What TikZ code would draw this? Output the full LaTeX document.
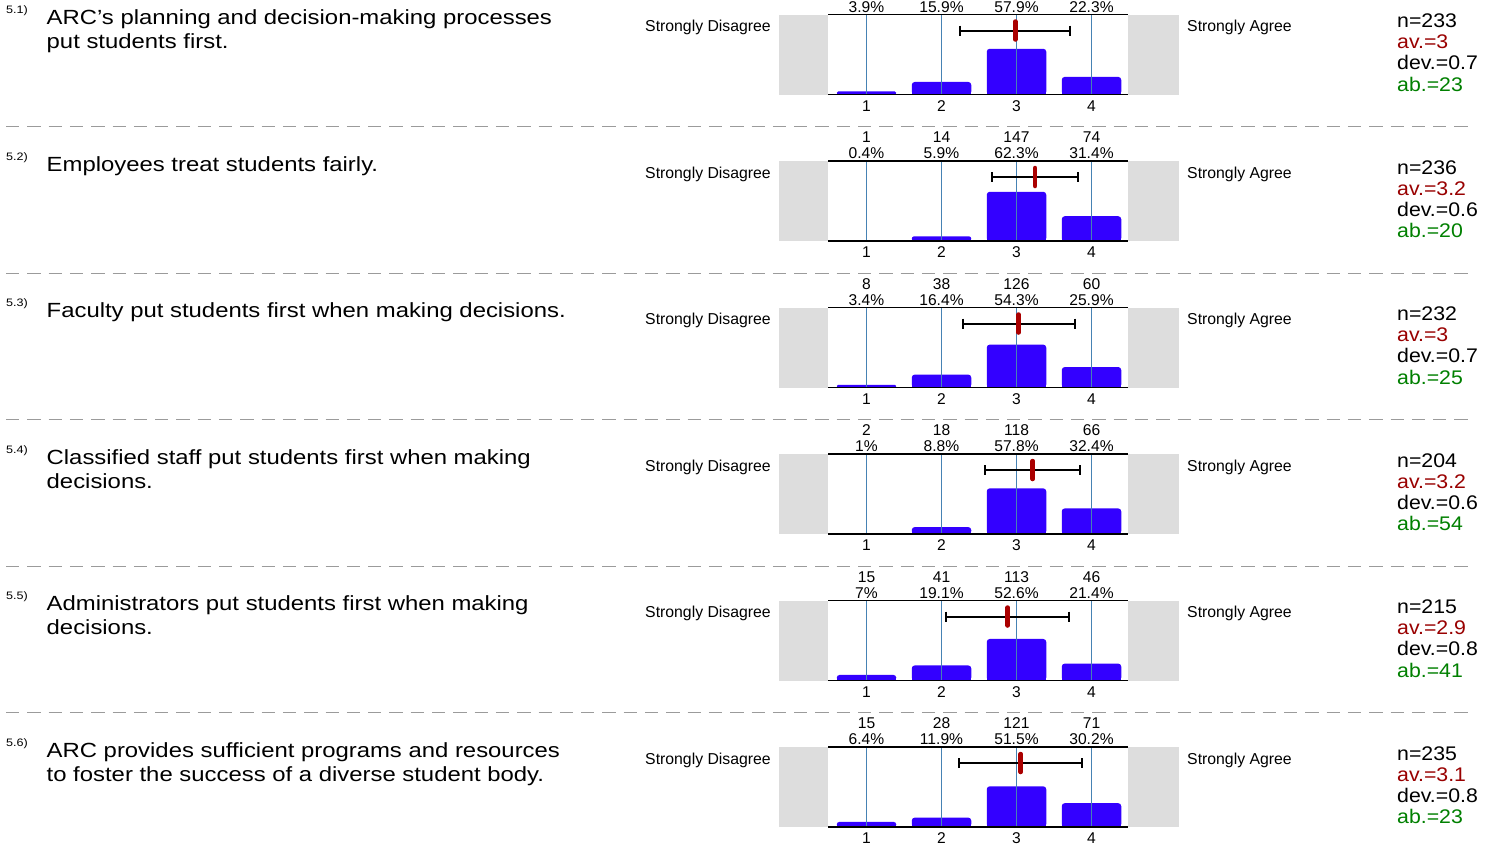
\documentclass[tikz,border=0pt]{standalone}
\usepackage{fontspec}
\setmainfont{Liberation Sans}
\newfontfamily\qfont[FakeStretch=1.165]{Liberation Sans}
\newfontfamily\stfont[FakeStretch=1.08]{Liberation Sans}
\definecolor{barblue}{RGB}{51,0,255}
\definecolor{gridblue}{RGB}{70,130,180}
\definecolor{meanred}{RGB}{170,0,0}
\definecolor{avred}{RGB}{153,0,0}
\definecolor{abgreen}{RGB}{0,128,0}
\definecolor{boxgray}{RGB}{221,221,221}
\definecolor{sepgray}{RGB}{155,155,155}
\begin{document}
\begin{tikzpicture}[x=1pt,y=-1pt,
  lbl/.style={font=\fontsize{15.6}{16}\selectfont, inner sep=0pt, anchor=base},
  sidelbl/.style={font=\fontsize{15.8}{16}\selectfont, inner sep=0pt},
  qtext/.style={font=\qfont\fontsize{20.5}{24}\selectfont, inner sep=0pt, anchor=base west},
  qnum/.style={font=\qfont\fontsize{10.8}{12}\selectfont, inner sep=0pt, anchor=base west},
  stat/.style={font=\stfont\fontsize{19.7}{21}\selectfont, inner sep=0pt, anchor=base west},
  gridln/.style={draw=gridblue, line width=1.3pt},
  axisln/.style={draw=black, line width=1.5pt},
  errbar/.style={draw=black, line width=2pt},
  meanmk/.style={draw=meanred, line width=4.5pt, line cap=round},
  sepline/.style={draw=sepgray, line width=1pt, dash pattern=on 13.3pt off 8pt}
]
\useasboundingbox (0,0) rectangle (1497,846);
\fill[white] (0,0) rectangle (1497,846);

% separators
\foreach \k in {1,...,5}{
  \pgfmathsetmacro\T{14.5+146.5*\k}
  \coordinate (sa\k) at (6,\T-34.5);
  \coordinate (sb\k) at (1471,\T-34.5);
  \draw[sepline] (sa\k) -- (sb\k);
}

% charts
\foreach \k/\pa/\pb/\pc/\pd/\n/\av/\dev/\ab in {
  0/3.9/15.9/57.9/22.3/233/3/0.7/23,
  1/0.4/5.9/62.3/31.4/236/3.2/0.6/20,
  2/3.4/16.4/54.3/25.9/232/3/0.7/25,
  3/1/8.8/57.8/32.4/204/3.2/0.6/54,
  4/7/19.1/52.6/21.4/215/2.9/0.8/41,
  5/6.4/11.9/51.5/30.2/235/3.1/0.8/23}{
  \pgfmathsetmacro\T{14.5+146.5*\k}
  \pgfmathsetmacro\B{\T+80}
  % gray side boxes
  \fill[boxgray] (779,\T) rectangle (828,\B);
  \fill[boxgray] (1128,\T) rectangle (1179,\B);
  % bars
  \foreach \i/\p in {1/\pa,2/\pb,3/\pc,4/\pd}{
    \pgfmathsetmacro\cx{866.5+75*(\i-1)}
    \pgfmathsetmacro\h{0.79*\p}
    \pgfmathsetmacro\r{min(3,\h/2)}
    \fill[barblue, rounded corners=\r pt] (\cx-29.75,\B-\h) rectangle (\cx+29.75,\B);
    \fill[barblue] (\cx-29.75,\B-\h+\r) rectangle (\cx+29.75,\B);
    \draw[gridln] (\cx,\T) -- (\cx,\B);
    \node[lbl] (pct\k-\i) at (\cx,\T-2.5) {\p\%};
    \node[lbl] (ax\k-\i) at (\cx,\T+96.5) {\i};
  }
  \draw[axisln] (828,\T) -- (1128,\T);
  \draw[axisln] (828,\B) -- (1128,\B);
  % mean and deviation
  \pgfmathsetmacro\tot{\pa+\pb+\pc+\pd}
  \pgfmathsetmacro\mm{(\pa+2*\pb+3*\pc+4*\pd)/\tot}
  \pgfmathsetmacro\sd{sqrt(max((\pa+4*\pb+9*\pc+16*\pd)/\tot-\mm*\mm,0))}
  \pgfmathsetmacro\xm{866.5+75*(\mm-1)}
  \coordinate (el\k) at ({\xm-75*\sd},\T+16);
  \coordinate (er\k) at ({\xm+75*\sd},\T+16);
  \draw[errbar] (el\k) -- (er\k);
  \draw[errbar] ([yshift=5pt]el\k) -- ([yshift=-5pt]el\k);
  \draw[errbar] ([yshift=5pt]er\k) -- ([yshift=-5pt]er\k);
  \coordinate (mt\k) at (\xm,\T+7);
  \coordinate (mb\k) at (\xm,\T+25);
  \draw[meanmk] (mt\k) -- (mb\k);
  % side labels
  \node[sidelbl, anchor=base east] (sd\k) at (771,\T+17.3) {Strongly Disagree};
  \node[sidelbl, anchor=base west] (sag\k) at (1187,\T+17.3) {Strongly Agree};
  % stats
  \node[stat] (n\k) at (1397,\T+13) {n=\n};
  \node[stat, text=avred] (av\k) at (1397,\T+34.2) {av.=\av};
  \node[stat] (dev\k) at (1397,\T+55.4) {dev.=\dev};
  \node[stat, text=abgreen] (ab\k) at (1397,\T+76.6) {ab.=\ab};
}

% counts (rows 2-6)
\foreach \k/\ca/\cb/\cc/\cd in {1/1/14/147/74, 2/8/38/126/60, 3/2/18/118/66, 4/15/41/113/46, 5/15/28/121/71}{
  \pgfmathsetmacro\T{14.5+146.5*\k}
  \foreach \i/\c in {1/\ca,2/\cb,3/\cc,4/\cd}{
    \pgfmathsetmacro\cx{866.5+75*(\i-1)}
    \node[lbl] (cnt\k-\i) at (\cx,\T-18.5) {\c};
  }
}

% questions
\node[qnum] (num1) at (6,13.5) {5.1)};
\node[qtext] (q1a) at (46.5,24.5) {ARC’s planning and decision-making processes};
\node[qtext] (q1b) at (46.5,48.5) {put students first.};

\node[qnum] (num2) at (6,160) {5.2)};
\node[qtext] (q2a) at (46.5,171) {Employees treat students fairly.};

\node[qnum] (num3) at (6,306.5) {5.3)};
\node[qtext] (q3a) at (46.5,317.5) {Faculty put students first when making decisions.};

\node[qnum] (num4) at (6,453) {5.4)};
\node[qtext] (q4a) at (46.5,464) {Classified staff put students first when making};
\node[qtext] (q4b) at (46.5,488) {decisions.};

\node[qnum] (num5) at (6,599.5) {5.5)};
\node[qtext] (q5a) at (46.5,610.5) {Administrators put students first when making};
\node[qtext] (q5b) at (46.5,634.5) {decisions.};

\node[qnum] (num6) at (6,746) {5.6)};
\node[qtext] (q6a) at (46.5,757) {ARC provides sufficient programs and resources};
\node[qtext] (q6b) at (46.5,781) {to foster the success of a diverse student body.};
\end{tikzpicture}
\end{document}
